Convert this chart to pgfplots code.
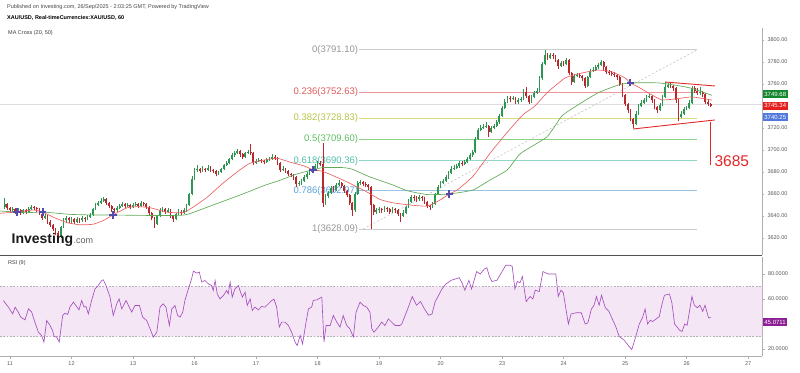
\documentclass[border=0pt]{standalone}
\usepackage{fontspec}
\setmainfont{Liberation Sans}
\usepackage{pgfplots}
\usepackage{pgfplotstable}
\pgfplotsset{compat=1.18}
\definecolor{upc}{RGB}{45,150,80}
\definecolor{dnc}{RGB}{185,40,45}
\definecolor{ma20}{RGB}{235,95,95}
\definecolor{ma50}{RGB}{95,170,85}
\definecolor{rsic}{RGB}{165,80,190}
\definecolor{rsifill}{RGB}{244,230,245}
\definecolor{crossc}{RGB}{85,75,175}
\definecolor{annred}{RGB}{225,40,40}
\definecolor{axisgray}{RGB}{175,175,175}
\definecolor{ticktext}{RGB}{90,90,90}
\definecolor{fibgrey}{RGB}{150,150,150}
\definecolor{fibgreyl}{RGB}{205,205,205}
\definecolor{fibred}{RGB}{220,90,90}
\definecolor{fibredl}{RGB}{238,150,150}
\definecolor{fibyel}{RGB}{185,195,70}
\definecolor{fibyell}{RGB}{215,220,125}
\definecolor{fibgrn}{RGB}{95,190,95}
\definecolor{fibgrnl}{RGB}{135,210,135}
\definecolor{fibtea}{RGB}{80,190,170}
\definecolor{fibteal}{RGB}{145,215,200}
\definecolor{fibblu}{RGB}{90,160,220}
\definecolor{fibblul}{RGB}{155,195,230}
\definecolor{boxgreen}{RGB}{20,135,45}
\definecolor{boxred}{RGB}{230,30,30}
\definecolor{boxblue}{RGB}{80,120,220}
\definecolor{boxpurple}{RGB}{140,30,150}

\pgfplotsset{
  wickup/.style={upc, mark=none, forget plot, line width=0.5pt,
    quiver={u=0, v={\thisrow{d}*(\thisrow{h}-\thisrow{l})}, every arrow/.append style={line width=0.5pt, line cap=butt}}},
  wickdn/.style={dnc, mark=none, forget plot, line width=0.5pt,
    quiver={u=0, v={(1-\thisrow{d})*(\thisrow{h}-\thisrow{l})}, every arrow/.append style={line width=0.5pt, line cap=butt}}},
  bodyup/.style={upc, mark=none, forget plot, line width=1.8pt,
    quiver={u=0, v={\thisrow{d}*max(abs(\thisrow{c}-\thisrow{o}),0.6)}, every arrow/.append style={line width=1.8pt, line cap=butt}}},
  bodydn/.style={dnc, mark=none, forget plot, line width=1.8pt,
    quiver={u=0, v={(1-\thisrow{d})*max(abs(\thisrow{c}-\thisrow{o}),0.6)}, every arrow/.append style={line width=1.8pt, line cap=butt}}},
}

\pgfplotstableread{
i o h l c d
-2 3648 3656 3646 3651 1
-1 3651 3652 3645 3647 0
0 3647 3648 3643 3645 0
1 3645 3648 3644 3646 1
2 3646 3647 3642 3644 0
3 3644 3647 3643 3645 1
4 3645 3646 3641 3643 0
5 3643 3646 3642 3645 1
6 3645 3646 3642 3644 0
7 3644 3648 3643 3646 1
8 3646 3650 3645 3648 1
9 3648 3649 3645 3647 0
10 3647 3648 3644 3646 0
11 3646 3647 3641 3642 0
12 3642 3643 3636 3638 0
13 3638 3642 3637 3640 1
14 3640 3641 3633 3635 0
15 3635 3636 3630 3632 0
16 3632 3633 3626 3628 0
17 3628 3629 3623 3625 0
18 3625 3626 3618 3622 0
19 3622 3631 3620 3630 1
20 3630 3638 3629 3636 1
21 3636 3640 3634 3638 1
22 3638 3639 3634 3636 0
23 3636 3639 3634 3637 1
24 3637 3638 3633 3635 0
25 3635 3639 3634 3637 1
26 3637 3638 3634 3636 0
27 3636 3640 3635 3638 1
28 3638 3639 3635 3637 0
29 3637 3641 3636 3639 1
30 3639 3643 3638 3641 1
31 3641 3647 3640 3646 1
32 3646 3652 3645 3650 1
33 3650 3654 3649 3652 1
34 3652 3656 3651 3654 1
35 3654 3657 3653 3655 1
36 3655 3656 3650 3652 0
37 3652 3653 3647 3649 0
38 3649 3650 3644 3646 0
39 3646 3647 3643 3645 0
40 3645 3649 3644 3647 1
41 3647 3651 3646 3649 1
42 3649 3653 3648 3651 1
43 3651 3652 3647 3649 0
44 3649 3652 3648 3650 1
45 3650 3651 3646 3648 0
46 3648 3652 3647 3650 1
47 3650 3653 3649 3651 1
48 3651 3652 3647 3649 0
49 3649 3654 3648 3652 1
50 3652 3653 3649 3651 0
51 3651 3652 3646 3648 0
52 3648 3649 3641 3643 0
53 3643 3644 3636 3638 0
54 3638 3639 3629 3633 0
55 3633 3641 3632 3640 1
56 3640 3647 3639 3645 1
57 3645 3648 3644 3646 1
58 3646 3647 3642 3644 0
59 3644 3647 3643 3645 1
60 3645 3646 3638 3640 0
61 3640 3641 3635 3637 0
62 3637 3643 3636 3642 1
63 3642 3646 3641 3644 1
64 3644 3645 3641 3643 0
65 3643 3647 3642 3645 1
66 3645 3651 3644 3650 1
67 3650 3661 3649 3660 1
68 3660 3676 3659 3674 1
69 3674 3684 3673 3682 1
70 3682 3686 3680 3683 1
71 3683 3684 3679 3681 0
72 3681 3685 3680 3683 1
73 3683 3684 3680 3682 0
74 3682 3686 3681 3684 1
75 3684 3685 3680 3682 0
76 3682 3683 3679 3681 0
77 3681 3682 3676 3678 0
78 3678 3681 3677 3680 1
79 3680 3684 3679 3683 1
80 3683 3687 3682 3686 1
81 3686 3690 3685 3688 1
82 3688 3693 3687 3692 1
83 3692 3697 3691 3695 1
84 3695 3699 3694 3697 1
85 3697 3701 3696 3699 1
86 3699 3700 3694 3696 0
87 3696 3697 3692 3694 0
88 3694 3698 3693 3697 1
89 3697 3700 3696 3698 1
90 3698 3705 3695 3697 0
91 3697 3698 3686 3688 0
92 3688 3692 3687 3690 1
93 3690 3693 3689 3691 1
94 3691 3692 3688 3690 0
95 3690 3691 3687 3689 0
96 3689 3693 3688 3691 1
97 3691 3694 3690 3692 1
98 3692 3696 3691 3694 1
99 3694 3695 3691 3693 0
100 3693 3694 3686 3688 0
101 3688 3689 3680 3682 0
102 3682 3685 3681 3683 1
103 3683 3684 3679 3681 0
104 3681 3682 3676 3678 0
105 3678 3679 3675 3677 0
106 3677 3678 3673 3675 0
107 3675 3676 3666 3669 0
108 3669 3672 3667 3670 1
109 3670 3674 3668 3672 1
110 3672 3677 3671 3675 1
111 3675 3680 3674 3678 1
112 3678 3682 3677 3680 1
113 3680 3685 3679 3683 1
114 3683 3687 3682 3685 1
115 3685 3690 3684 3688 1
116 3688 3690 3685 3687 0
117 3687 3706 3648 3652 0
118 3652 3660 3650 3658 1
119 3658 3663 3656 3661 1
120 3661 3667 3660 3665 1
121 3665 3667 3662 3664 0
122 3664 3670 3663 3668 1
123 3668 3673 3667 3670 1
124 3670 3671 3665 3667 0
125 3667 3668 3661 3663 0
126 3663 3664 3657 3659 0
127 3659 3660 3650 3652 0
128 3652 3653 3640 3645 0
129 3645 3662 3644 3660 1
130 3660 3672 3659 3670 1
131 3670 3673 3668 3671 1
132 3671 3672 3667 3669 0
133 3669 3671 3666 3668 0
134 3668 3669 3664 3666 0
135 3666 3667 3628.09 3650 0
136 3650 3651 3641 3644 0
137 3644 3647 3642 3645 1
138 3645 3648 3643 3646 1
139 3646 3647 3643 3645 0
140 3645 3649 3644 3647 1
141 3647 3648 3644 3646 0
142 3646 3647 3642 3644 0
143 3644 3648 3643 3646 1
144 3646 3647 3643 3645 0
145 3645 3646 3640 3642 0
146 3642 3643 3635 3640 0
147 3640 3645 3639 3643 1
148 3643 3649 3642 3648 1
149 3648 3655 3647 3653 1
150 3653 3659 3652 3657 1
151 3657 3659 3654 3656 0
152 3656 3658 3653 3655 0
153 3655 3659 3654 3657 1
154 3657 3658 3654 3656 0
155 3656 3657 3651 3653 0
156 3653 3654 3647 3649 0
157 3649 3650 3645 3648 0
158 3648 3653 3647 3651 1
159 3651 3661 3650 3660 1
160 3660 3668 3659 3666 1
161 3666 3672 3665 3670 1
162 3670 3674 3669 3672 1
163 3672 3677 3671 3675 1
164 3675 3681 3674 3679 1
165 3679 3685 3678 3683 1
166 3683 3686 3682 3684 1
167 3684 3687 3683 3685 1
168 3685 3690 3684 3688 1
169 3688 3690 3685 3687 0
170 3687 3691 3686 3689 1
171 3689 3694 3688 3692 1
172 3692 3697 3691 3695 1
173 3695 3700 3694 3698 1
174 3698 3712 3697 3710 1
175 3710 3720 3709 3718 1
176 3718 3723 3717 3720 1
177 3720 3724 3719 3721 1
178 3721 3725 3720 3722 1
179 3722 3723 3712 3716 0
180 3716 3722 3715 3720 1
181 3720 3724 3719 3722 1
182 3722 3727 3721 3725 1
183 3725 3733 3724 3731 1
184 3731 3740 3730 3738 1
185 3738 3746 3737 3744 1
186 3744 3749 3743 3747 1
187 3747 3749 3744 3746 0
188 3746 3749 3745 3747 1
189 3747 3748 3742 3744 0
190 3744 3747 3742 3745 1
191 3745 3748 3744 3746 1
192 3746 3755 3745 3753 1
193 3753 3757 3747 3749 0
194 3749 3750 3742 3744 0
195 3744 3750 3743 3748 1
196 3748 3754 3747 3752 1
197 3752 3756 3751 3754 1
198 3754 3767 3753 3765 1
199 3765 3780 3764 3778 1
200 3778 3791.1 3777 3786 1
201 3786 3788 3782 3784 0
202 3784 3788 3783 3786 1
203 3786 3788 3783 3785 0
204 3785 3786 3780 3782 0
205 3782 3783 3774 3776 0
206 3776 3781 3775 3779 1
207 3779 3781 3776 3778 0
208 3778 3784 3777 3782 1
209 3782 3783 3768 3770 0
210 3770 3771 3759 3762 0
211 3762 3769 3761 3767 1
212 3767 3770 3766 3768 1
213 3768 3770 3765 3767 0
214 3767 3768 3763 3765 0
215 3765 3766 3756 3758 0
216 3758 3767 3757 3766 1
217 3766 3774 3765 3772 1
218 3772 3775 3771 3773 1
219 3773 3777 3772 3775 1
220 3775 3779 3774 3777 1
221 3777 3782 3776 3780 1
222 3780 3781 3773 3775 0
223 3775 3776 3769 3771 0
224 3771 3773 3768 3770 0
225 3770 3772 3767 3769 0
226 3769 3771 3766 3768 0
227 3768 3769 3764 3766 0
228 3766 3767 3758 3760 0
229 3760 3761 3748 3750 0
230 3750 3751 3740 3742 0
231 3742 3743 3734 3736 0
232 3736 3737 3726 3728 0
233 3728 3729 3720 3724 0
234 3724 3735 3723 3733 1
235 3733 3742 3732 3740 1
236 3740 3745 3739 3743 1
237 3743 3747 3742 3745 1
238 3745 3750 3744 3748 1
239 3748 3751 3747 3749 1
240 3749 3750 3743 3745 0
241 3745 3746 3737 3739 0
242 3739 3740 3734 3736 0
243 3736 3743 3735 3741 1
244 3741 3750 3740 3748 1
245 3748 3762 3747 3757 1
246 3757 3761 3756 3759 1
247 3759 3761 3756 3758 0
248 3758 3759 3754 3756 0
249 3756 3757 3743 3745 0
250 3745 3746 3726 3730 0
251 3730 3735 3729 3733 1
252 3733 3739 3732 3737 1
253 3737 3740 3736 3738 1
254 3738 3745 3737 3743 1
255 3743 3758 3742 3756 1
256 3756 3758 3752 3754 0
257 3754 3756 3750 3752 0
258 3752 3757 3750 3753 1
259 3753 3754 3748 3751 0
260 3751 3752 3742 3744 0
261 3744 3746 3740 3742 0
262 3742 3743 3739 3740.25 0
}\candles

\begin{document}
\begin{tikzpicture}
\useasboundingbox (0pt,0pt) rectangle (800pt,372pt);

% ---------------- main price panel ----------------
\begin{axis}[
  at={(0pt,117pt)}, anchor=south west, scale only axis,
  width=762pt, height=227pt,
  xmin=-3.74, xmax=281.2, ymin=3604.55, ymax=3810.9,
  axis x line=none, xtick=\empty,
  axis y line*=right,
  y axis line style={draw=axisgray, line width=0.6pt, -},
  ytick={3620,3640,3660,3680,3700,3720,3760,3780,3800},
  scaled y ticks=false,
  y tick label style={font=\fontsize{5.5}{6}\selectfont, text=ticktext,
    /pgf/number format/.cd, fixed, fixed zerofill, precision=2, 1000 sep={}, assume math mode=true},
  tick align=outside, major tick length=2pt,
  tick style={draw=axisgray, line width=0.5pt},
  clip=false,
]
% current price line
\addplot[color={rgb,255:red,222;green,222;blue,226}, line width=1.3pt, mark=none] coordinates {(-3.74,3741.2) (281.2,3741.2)};

% Fibonacci levels
\addplot[fibgreyl, line width=0.7pt, mark=none] coordinates {(130.6,3791.10) (257,3791.10)};
\addplot[fibredl, line width=0.7pt, mark=none] coordinates {(130.6,3752.63) (257,3752.63)};
\addplot[fibyell, line width=0.7pt, mark=none] coordinates {(130.6,3728.83) (257,3728.83)};
\addplot[fibgrnl, line width=0.7pt, mark=none] coordinates {(130.6,3709.60) (257,3709.60)};
\addplot[fibteal, line width=0.7pt, mark=none] coordinates {(130.6,3690.36) (257,3690.36)};
\addplot[fibblul, line width=0.7pt, mark=none] coordinates {(130.6,3662.97) (257,3662.97)};
\addplot[fibgreyl, line width=0.7pt, mark=none] coordinates {(130.6,3628.09) (257,3628.09)};
\addplot[gray!55, line width=0.5pt, dash pattern=on 2pt off 2pt, mark=none] coordinates {(132,3628.09) (257,3791.10)};

\begin{scope}[every node/.style={anchor=east, inner sep=0.5pt, font=\fontsize{9.5}{10}\selectfont}]
\node[text=fibgrey] at (axis cs:130.4,3791.10) {0(3791.10)};
\node[text=fibred]  at (axis cs:130.4,3752.63) {0.236(3752.63)};
\node[text=fibyel]  at (axis cs:130.4,3728.83) {0.382(3728.83)};
\node[text=fibgrn]  at (axis cs:130.4,3709.60) {0.5(3709.60)};
\node[text=fibtea]  at (axis cs:130.4,3690.36) {0.618(3690.36)};
\node[text=fibblu]  at (axis cs:130.4,3662.97) {0.786(3662.97)};
\node[text=fibgrey] at (axis cs:130.4,3628.09) {1(3628.09)};
\end{scope}

% candles: wicks (low to high) and bodies (min(open,close) to max(open,close))
\addplot[wickup] table[x=i, y=l] {\candles};
\addplot[wickdn] table[x=i, y=l] {\candles};
\addplot[bodyup] table[x=i, y expr={min(\thisrow{o},\thisrow{c})}] {\candles};
\addplot[bodydn] table[x=i, y expr={min(\thisrow{o},\thisrow{c})}] {\candles};

% MA 20
\addplot[ma20, line width=0.65pt, mark=none, smooth, tension=0.3] coordinates {
(-3.7,3642.5) (2.6,3643.6) (8.6,3645.5) (12.3,3643.6) (16.1,3639) (21.3,3634) (26.2,3632) (31,3632.5) (35,3636)
(38.5,3641) (43.8,3647.5) (48,3648.5) (52.4,3647.5) (58.7,3643.5) (64.7,3643) (68.4,3648) (73.7,3657)
(79.7,3670) (86,3682) (89.8,3688) (95.4,3691) (99.9,3692.5) (104.7,3689) (110,3685.5) (113.3,3682)
(117,3680.5) (124.5,3672.7) (133.5,3661.8) (138.4,3655) (143.2,3652) (149.6,3650) (156,3649)
(160.8,3654.5) (164.2,3660) (167.2,3663.6) (173.1,3676) (179.5,3697) (185.9,3716) (191.8,3732)
(196.3,3740) (200.8,3752) (207.6,3765.5) (213.9,3770) (219.9,3772.7) (225.1,3771) (230,3765.5)
(231.9,3761) (234.9,3757.3) (240.1,3750) (243.8,3745.5) (248.7,3746.4) (255.1,3748.2) (262.5,3745.34)};
% MA 50
\addplot[ma50, line width=0.65pt, mark=none, smooth, tension=0.3] coordinates {
(-3.7,3644.5) (2.6,3643.6) (8,3643.2) (12.3,3643.6) (22.4,3641.5) (30,3641) (38.5,3640.9) (52.4,3640.5)
(65.4,3641) (75.9,3650) (86,3659) (95.4,3668) (101,3672.5) (107,3678) (113.3,3682) (117,3684)
(124.5,3684) (128,3682.5) (134.6,3675.5) (143.2,3668.2) (148.5,3663) (156,3659.5) (164.2,3660)
(173.1,3663.6) (179.5,3672.7) (185.9,3681.8) (191,3697) (200.8,3712) (206.4,3731) (212.4,3741)
(219.9,3752) (227.4,3759) (231.9,3761) (242.3,3761) (248.7,3759) (255,3756) (262.5,3749.68)};

% MA cross markers
\addplot[only marks, mark=+, mark size=3.6pt, crossc, line width=1.5pt] coordinates {
(2.6,3643.6) (12.3,3643.6) (38.5,3640.9) (113.3,3682) (164.2,3660) (231.9,3761)};

% drawn annotations
\addplot[annred, line width=0.9pt, mark=none] coordinates {(245,3761.8) (263.6,3758.2)};
\addplot[annred, line width=0.9pt, mark=none] coordinates {(233,3719.1) (263.6,3727.3)};
\addplot[annred, line width=0.9pt, mark=none] coordinates {(261.8,3725.5) (261.8,3686.4)};
\node[anchor=west, inner sep=0pt, text=annred, font=\fontsize{15.5}{16}\selectfont] at (axis cs:263.4,3690) {3685};
\end{axis}

% ---------------- RSI panel ----------------
\begin{axis}[
  at={(0pt,16pt)}, anchor=south west, scale only axis,
  width=762pt, height=99pt,
  xmin=-3.74, xmax=281.2, ymin=14.4, ymax=93.6,
  axis x line*=bottom, axis y line*=right,
  axis line style={draw=axisgray, line width=0.6pt, -},
  xtick={0,23,46,69,92,115,138,161,184,207,230,253,276},
  xticklabels={11,12,13,16,17,18,19,20,23,24,25,26,27},
  x tick label style={font=\fontsize{5.5}{6}\selectfont, text=ticktext},
  ytick={20,60,80},
  y tick label style={font=\fontsize{5.5}{6}\selectfont, text=ticktext,
    /pgf/number format/.cd, fixed, fixed zerofill, precision=4, assume math mode=true},
  tick align=outside, major tick length=2.5pt,
  tick style={draw=axisgray, line width=0.5pt},
  clip=false,
]
\addplot[fill=rsifill, draw=none, mark=none] coordinates {(-3.74,30) (281.2,30) (281.2,70) (-3.74,70) (-3.74,30)};
\addplot[gray!60, line width=0.5pt, dash pattern=on 1.8pt off 1.5pt, mark=none] coordinates {(-3.74,70) (281.2,70)};
\addplot[gray!60, line width=0.5pt, dash pattern=on 1.8pt off 1.5pt, mark=none] coordinates {(-3.74,30) (281.2,30)};
\addplot[rsic, line width=0.65pt, mark=none] coordinates {
(-2.5,58.8) (-0.6,53.5) (1,48.1) (1.9,53.5) (3.1,49.5) (4,45.5) (5.6,43.3) (6.9,52.1) (8.1,49.5) (9.3,41.5)
(10.6,33.5) (11.8,30.8) (12.7,25.5) (13.7,42.8) (15,38.8) (15.9,34.8) (16.5,30) (17.5,29.5) (18.4,25.5)
(19.7,46.8) (20.6,48.7) (21.6,47.6) (22.4,53.5) (23.7,57.5) (24.9,54) (25.8,51.3) (26.8,58.8) (27.7,53.5)
(28.4,54) (29.3,48.1) (30.5,58.8) (31.8,68.1) (33,70.8) (34.3,74.8) (34.9,75.3) (35.9,70.8) (37.4,61.5)
(38.6,46.8) (39.9,56.1) (40.8,60.1) (41.8,52.1) (43.4,58.8) (44.6,53.5) (45.5,49.5) (46.7,54.8) (48.4,54.8)
(49.6,45.5) (51.1,42.8) (52.4,36.1) (53.6,29.5) (54.9,33.5) (56.1,53.5) (57.3,56.1) (58.3,53.5) (59.6,38.8)
(60.5,52.1) (61.7,54.8) (62.7,46.8) (63.6,45.5) (64.6,49.5) (65.4,58.8) (66.7,68.1) (67.9,76.1) (68.6,82.3)
(69.8,80.7) (70.8,81.5) (71.7,73.5) (72.9,74.8) (74.2,72.1) (75.4,70.8) (76,66.8) (76.7,74.8) (77.5,64.1)
(78.5,60.1) (79.8,62.8) (81,66.8) (81.6,64.1) (82.3,73.5) (83.1,61.5) (84.1,68.1) (85.4,70.8) (86,66.8)
(86.9,61.5) (87.9,65.5) (88.7,54.8) (89.8,60.1) (90.6,50.8) (91.6,53.5) (92.9,51.3) (94.1,54) (95.4,53.5)
(96.6,56.1) (97.9,58.8) (98.7,59.9) (99.7,53.5) (100.7,37.5) (101.6,41.5) (102.8,41.5) (104.1,38.8)
(105.3,33.5) (106.6,25.5) (107.4,22.8) (108.5,30.8) (109.4,24.1) (110.7,41.5) (111.6,52.1) (112.8,53.5)
(113.4,58.8) (114.7,59.3) (116.6,61.5) (117.4,25.5) (118.2,38.8) (119.7,38.8) (120.9,46.8) (122.2,41.5)
(123.4,37.5) (124.6,46.8) (125.9,38.8) (127.1,36.1) (128.4,29.5) (129.4,49.5) (130.9,57.5) (132.1,54.8)
(133.4,53.5) (134.6,49.5) (135.3,36.1) (136.1,33.5) (137.7,37.5) (139,41.5) (140.2,38.8) (141.5,44.1)
(142.7,41.5) (144,38.8) (145.8,38.8) (146.5,40) (148.7,52) (150.4,62) (152,55) (153.5,58) (155,52)
(156.5,47) (157.8,48) (159,58) (160.3,63) (161.5,68) (163,72) (165,75) (166.5,76) (168,77) (169,73)
(170.1,67) (171.6,75) (172.6,68) (174.5,82) (175.8,80) (177.4,84) (178.3,85) (179.3,78) (180.2,74)
(182.1,75) (184,82) (185.4,87) (186.9,87) (187.8,86) (188.8,68) (189.7,74) (190.7,73) (191.6,78)
(193,58) (194.5,62) (195.5,60) (196.4,67) (197.9,66) (199.3,82) (201.2,80) (204.1,80) (205,62)
(206,67) (206.9,65) (208.8,40) (209.8,48) (211.7,49) (213.6,49) (215.1,40) (216.1,41) (217.4,52)
(218.4,55) (219.3,62) (220.3,55) (221.2,63) (222.6,53) (224,50) (225,45) (226.5,38) (227.8,30)
(229.7,27) (231.5,22) (232.5,19.5) (234,30) (235.3,40) (236.5,45) (237.5,52) (238.4,40) (239.4,43)
(240.3,42) (241.6,44) (242.8,46) (243.7,55) (244.7,63) (246.6,64) (247.5,57) (248.5,40) (250.4,35)
(251.3,34) (252.3,40) (253.2,39) (255,62) (255.9,55) (257,53) (258,55) (259,50) (259.9,55) (261.2,45)
(262.2,45.07)};
\end{axis}

% separator between panels
\draw[color={rgb,255:red,80;green,80;blue,80}, line width=1.3pt] (0pt,116.3pt) -- (762pt,116.3pt);

% value boxes on the right
\begin{scope}[every node/.style={anchor=west, inner xsep=1.6pt, inner ysep=0pt, minimum height=8.5pt, text=white, font=\fontsize{6}{6}\selectfont}]
\node[fill=boxgreen] at (762.6pt,278pt) {3749.68};
\node[fill=boxred] at (762.6pt,266.2pt) {3745.34};
\node[fill=boxblue] at (762.6pt,255pt) {3740.25};
\node[fill=boxpurple] at (762.6pt,50pt) {45.0711};
\end{scope}

% header texts
\node[anchor=base west, inner sep=0pt, text={rgb,255:red,70;green,70;blue,70}, font=\fontsize{5.5}{6}\selectfont] at (7pt,363.5pt) {Published on Investing.com, 26/Sep/2025 - 2:03:25 GMT, Powered by TradingView};
\node[anchor=base west, inner sep=0pt, text=black, font=\bfseries\fontsize{5.5}{6}\selectfont] at (7pt,352.5pt) {XAU/USD, Real-timeCurrencies:XAU/USD, 60};
\node[anchor=base west, inner sep=0pt, text={rgb,255:red,60;green,60;blue,60}, font=\fontsize{5.5}{6}\selectfont] at (8pt,337.5pt) {MA Cross (20, 50)};
\node[anchor=base west, inner sep=0pt, text={rgb,255:red,60;green,60;blue,60}, font=\fontsize{5.5}{6}\selectfont] at (8pt,107pt) {RSI (9)};

% logo
\node[anchor=base west, inner sep=0pt, font=\bfseries\fontsize{14}{14}\selectfont, text={rgb,255:red,25;green,25;blue,25}] (inv) at (11.5pt,128.5pt) {Investing};
\node[anchor=base west, inner sep=0pt, font=\fontsize{9}{9}\selectfont, text={rgb,255:red,95;green,95;blue,95}] at (inv.base east) {.com};
\end{tikzpicture}
\end{document}
